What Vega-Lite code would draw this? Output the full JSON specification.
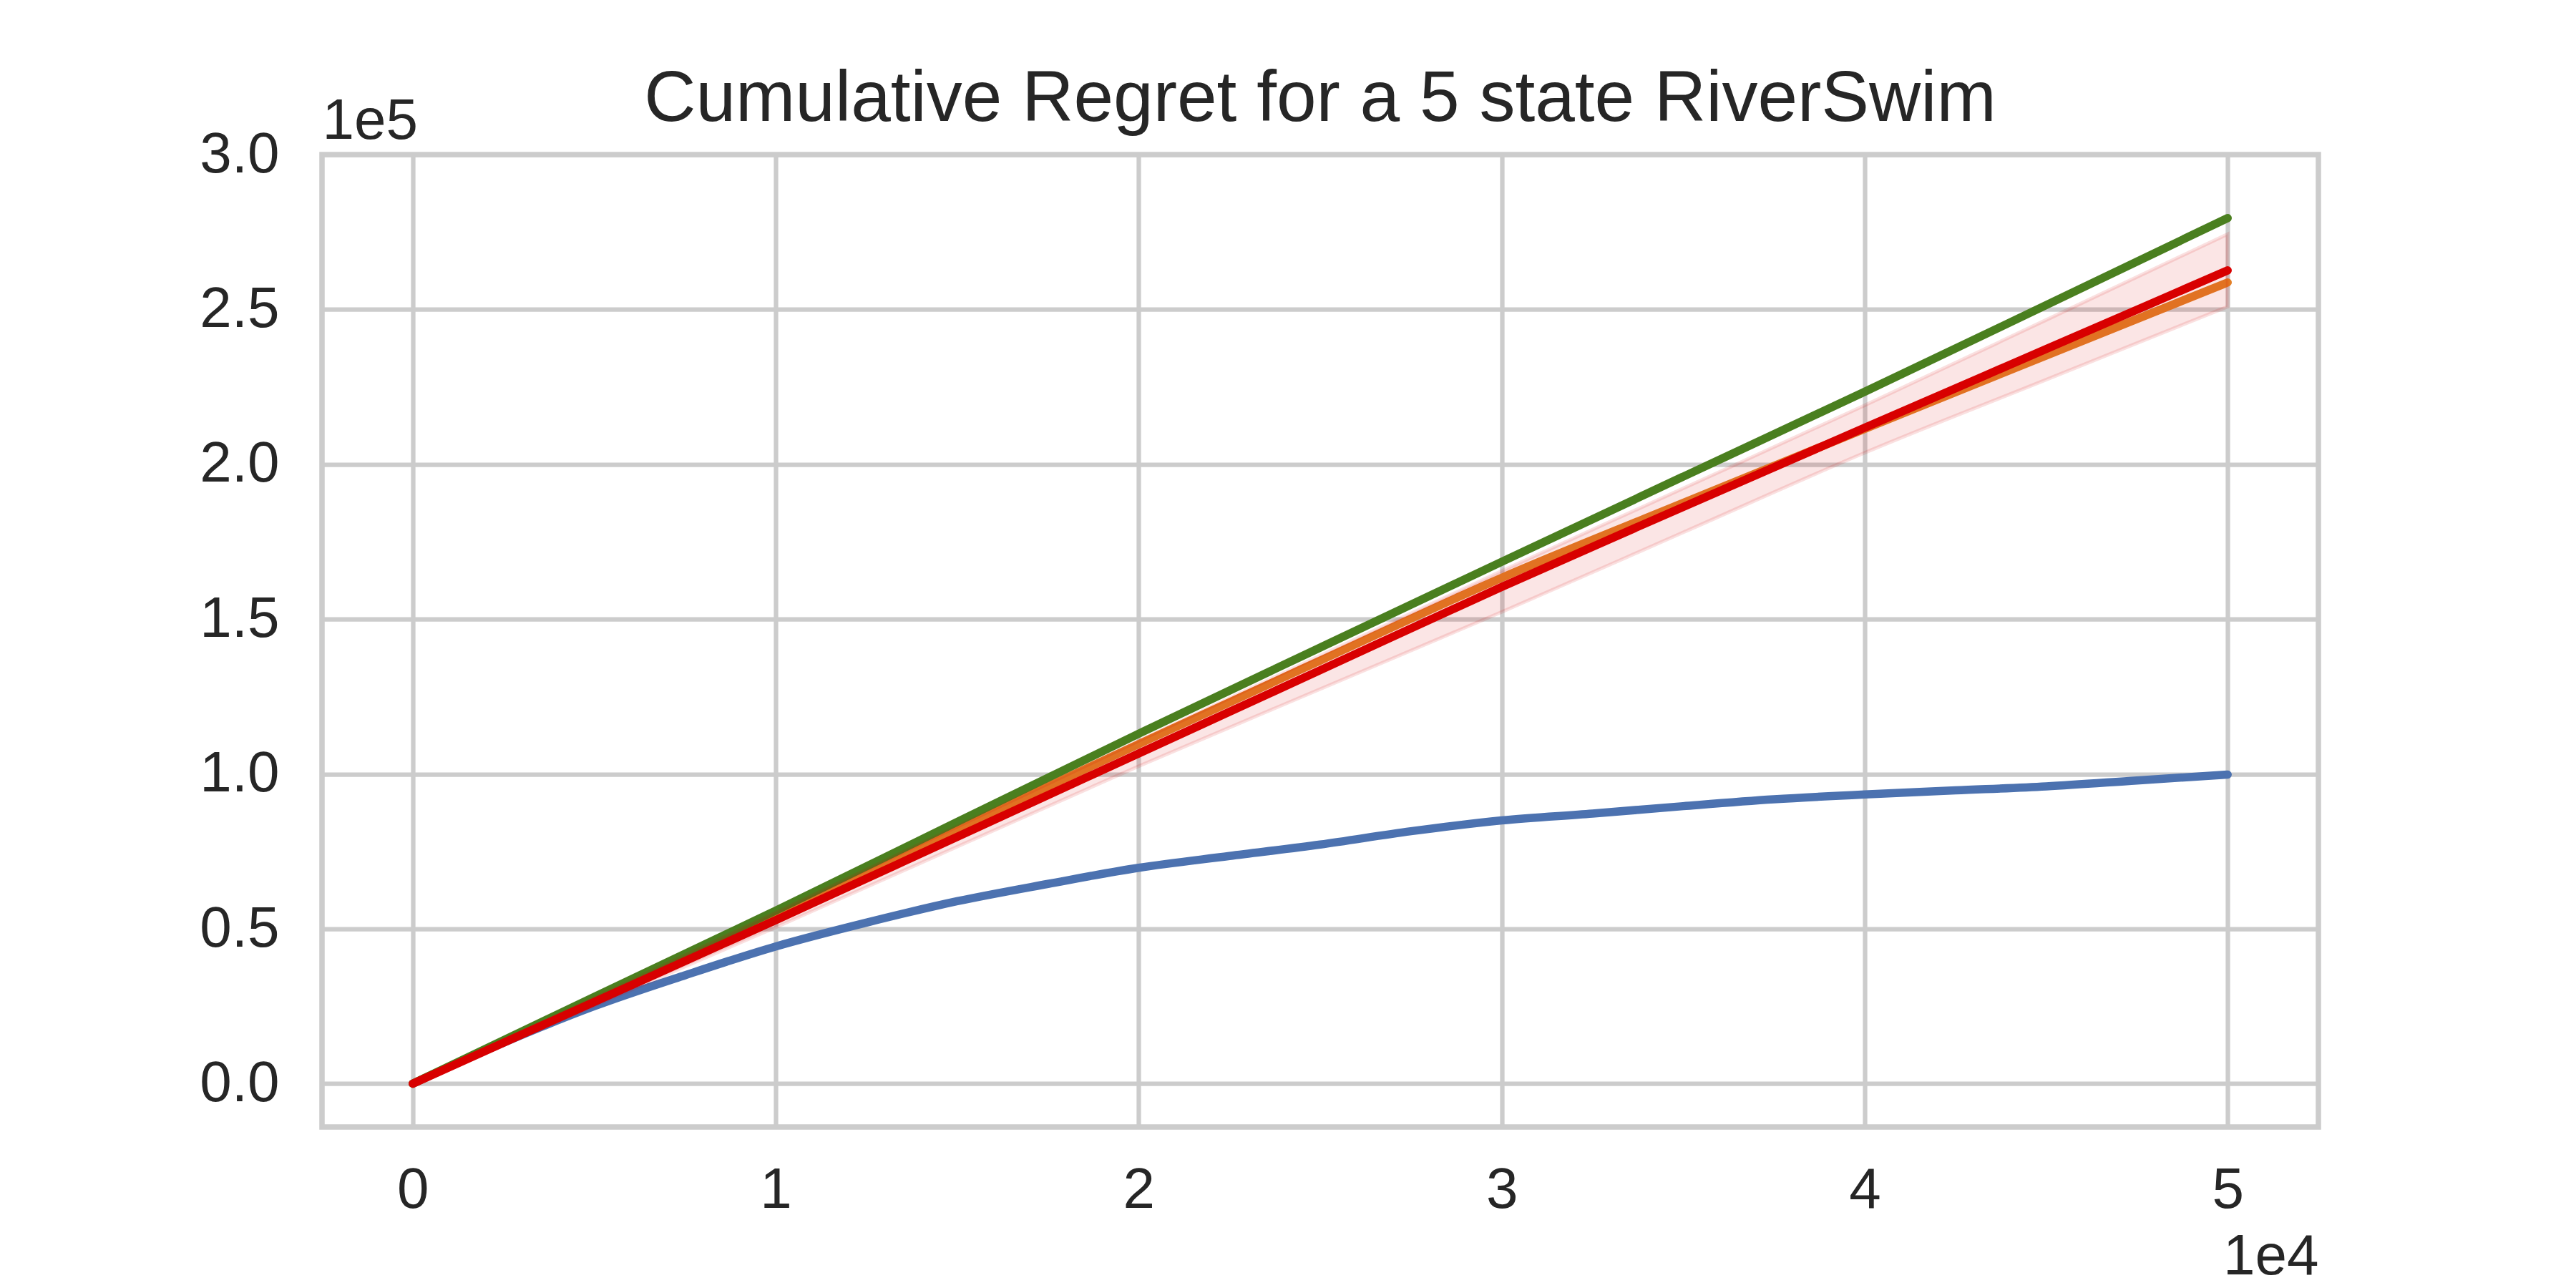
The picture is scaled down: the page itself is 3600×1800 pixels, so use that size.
{
  "$schema": "https://vega.github.io/schema/vega-lite/v6.json",
  "width": 2790,
  "height": 1359,
  "autosize": {"type": "none"},
  "padding": {"left": 450, "top": 216, "right": 360, "bottom": 225},
  "background": "white",
  "title": {
    "text": "Cumulative Regret for a 5 state RiverSwim",
    "fontSize": 100,
    "font": "Liberation Sans",
    "fontWeight": "normal",
    "color": "#262626",
    "anchor": "middle",
    "frame": "group",
    "baseline": "alphabetic",
    "offset": -140
  },
  "config": {
    "view": {"stroke": "#cccccc", "strokeWidth": 7.5},
    "font": "Liberation Sans"
  },
  "datasets": {
    "lines": [
      {"step": 0, "regret": 0, "series": "Algorithm A"},
      {"step": 2500, "regret": 13200, "series": "Algorithm A"},
      {"step": 5000, "regret": 25000, "series": "Algorithm A"},
      {"step": 7500, "regret": 35000, "series": "Algorithm A"},
      {"step": 10000, "regret": 44300, "series": "Algorithm A"},
      {"step": 12500, "regret": 52000, "series": "Algorithm A"},
      {"step": 15000, "regret": 58900, "series": "Algorithm A"},
      {"step": 17500, "regret": 64500, "series": "Algorithm A"},
      {"step": 20000, "regret": 69700, "series": "Algorithm A"},
      {"step": 22500, "regret": 73500, "series": "Algorithm A"},
      {"step": 25000, "regret": 77200, "series": "Algorithm A"},
      {"step": 27500, "regret": 81500, "series": "Algorithm A"},
      {"step": 30000, "regret": 85000, "series": "Algorithm A"},
      {"step": 32500, "regret": 87200, "series": "Algorithm A"},
      {"step": 35000, "regret": 89600, "series": "Algorithm A"},
      {"step": 37500, "regret": 91800, "series": "Algorithm A"},
      {"step": 40000, "regret": 93400, "series": "Algorithm A"},
      {"step": 42500, "regret": 94700, "series": "Algorithm A"},
      {"step": 45000, "regret": 96000, "series": "Algorithm A"},
      {"step": 47500, "regret": 97900, "series": "Algorithm A"},
      {"step": 50000, "regret": 99800, "series": "Algorithm A"},
      {"step": 0, "regret": 0, "series": "Algorithm B"},
      {"step": 5000, "regret": 27400, "series": "Algorithm B"},
      {"step": 10000, "regret": 54800, "series": "Algorithm B"},
      {"step": 15000, "regret": 82200, "series": "Algorithm B"},
      {"step": 20000, "regret": 109650, "series": "Algorithm B"},
      {"step": 25000, "regret": 136600, "series": "Algorithm B"},
      {"step": 30000, "regret": 163350, "series": "Algorithm B"},
      {"step": 35000, "regret": 187500, "series": "Algorithm B"},
      {"step": 40000, "regret": 211400, "series": "Algorithm B"},
      {"step": 45000, "regret": 235100, "series": "Algorithm B"},
      {"step": 50000, "regret": 258700, "series": "Algorithm B"},
      {"step": 0, "regret": 0, "series": "Algorithm C"},
      {"step": 5000, "regret": 28000, "series": "Algorithm C"},
      {"step": 10000, "regret": 55860, "series": "Algorithm C"},
      {"step": 15000, "regret": 84500, "series": "Algorithm C"},
      {"step": 20000, "regret": 113000, "series": "Algorithm C"},
      {"step": 25000, "regret": 140800, "series": "Algorithm C"},
      {"step": 30000, "regret": 168500, "series": "Algorithm C"},
      {"step": 35000, "regret": 196000, "series": "Algorithm C"},
      {"step": 40000, "regret": 223400, "series": "Algorithm C"},
      {"step": 45000, "regret": 251400, "series": "Algorithm C"},
      {"step": 50000, "regret": 279500, "series": "Algorithm C"},
      {"step": 0, "regret": 0, "series": "Algorithm D"},
      {"step": 5000, "regret": 26400, "series": "Algorithm D"},
      {"step": 10000, "regret": 52800, "series": "Algorithm D"},
      {"step": 15000, "regret": 79700, "series": "Algorithm D"},
      {"step": 20000, "regret": 106600, "series": "Algorithm D"},
      {"step": 25000, "regret": 133500, "series": "Algorithm D"},
      {"step": 30000, "regret": 160400, "series": "Algorithm D"},
      {"step": 35000, "regret": 186200, "series": "Algorithm D"},
      {"step": 40000, "regret": 211800, "series": "Algorithm D"},
      {"step": 45000, "regret": 237200, "series": "Algorithm D"},
      {"step": 50000, "regret": 262600, "series": "Algorithm D"}
    ],
    "band": [
      {"step": 0, "lower": 0, "upper": 0},
      {"step": 5000, "lower": 25200, "upper": 27700},
      {"step": 10000, "lower": 50500, "upper": 55200},
      {"step": 15000, "lower": 76500, "upper": 83000},
      {"step": 20000, "lower": 102500, "upper": 110700},
      {"step": 25000, "lower": 127400, "upper": 138200},
      {"step": 30000, "lower": 152300, "upper": 165500},
      {"step": 35000, "lower": 178000, "upper": 192200},
      {"step": 40000, "lower": 203700, "upper": 219000},
      {"step": 45000, "lower": 227300, "upper": 246600},
      {"step": 50000, "lower": 250900, "upper": 274300}
    ]
  },
  "encoding": {
    "x": {
      "field": "step",
      "type": "quantitative",
      "scale": {"domain": [-2500, 52500], "nice": false, "zero": false},
      "axis": {
        "title": "1e4",
        "titleFontSize": 80,
        "titleFontWeight": "normal",
        "titleColor": "#262626",
        "titleAlign": "right",
        "titleBaseline": "alphabetic",
        "titleX": 2790,
        "titleY": 205,
        "values": [0, 10000, 20000, 30000, 40000, 50000],
        "labelExpr": "format(datum.value / 10000, 'd')",
        "labelFontSize": 80,
        "labelColor": "#262626",
        "labelPadding": 49,
        "labelFlush": false,
        "ticks": false,
        "domain": false,
        "grid": true,
        "gridColor": "#cccccc",
        "gridWidth": 6.25
      }
    }
  },
  "layer": [
    {
      "data": {"name": "lines"},
      "transform": [{"filter": "datum.series == 'Algorithm A'"}],
      "mark": {"type": "line", "strokeWidth": 11.5, "strokeCap": "round", "strokeJoin": "round", "interpolate": "monotone"},
      "encoding": {
        "y": {
          "field": "regret",
          "type": "quantitative",
          "scale": {"domain": [-14000, 300000], "nice": false, "zero": false},
          "axis": {
            "title": "1e5",
            "titleFontSize": 80,
            "titleFontWeight": "normal",
            "titleColor": "#262626",
            "titleAngle": 0,
            "titleAlign": "left",
            "titleBaseline": "alphabetic",
            "titleX": 0,
            "titleY": -23,
            "values": [0, 50000, 100000, 150000, 200000, 250000, 300000],
            "labelExpr": "format(datum.value / 100000, '.1f')",
            "labelFontSize": 80,
            "labelColor": "#262626",
            "labelPadding": 60,
            "ticks": false,
            "domain": false,
            "grid": true,
            "gridColor": "#cccccc",
            "gridWidth": 6.25
          }
        },
        "color": {
          "field": "series",
          "type": "nominal",
          "scale": {"domain": ["Algorithm A", "Algorithm B", "Algorithm C", "Algorithm D"], "range": ["#4c72b0", "#e37f26", "#4a7f1f", "#d90000"]},
          "legend": null
        }
      }
    },
    {
      "data": {"name": "lines"},
      "transform": [{"filter": "datum.series == 'Algorithm B'"}],
      "mark": {"type": "line", "strokeWidth": 11.5, "strokeCap": "round", "strokeJoin": "round", "interpolate": "monotone"},
      "encoding": {
        "y": {"field": "regret", "type": "quantitative"},
        "color": {"field": "series", "type": "nominal", "legend": null}
      }
    },
    {
      "data": {"name": "lines"},
      "transform": [{"filter": "datum.series == 'Algorithm C'"}],
      "mark": {"type": "line", "strokeWidth": 11.5, "strokeCap": "round", "strokeJoin": "round", "interpolate": "monotone"},
      "encoding": {
        "y": {"field": "regret", "type": "quantitative"},
        "color": {"field": "series", "type": "nominal", "legend": null}
      }
    },
    {
      "data": {"name": "lines"},
      "transform": [{"filter": "datum.series == 'Algorithm D'"}],
      "mark": {"type": "line", "strokeWidth": 11.5, "strokeCap": "round", "strokeJoin": "round", "interpolate": "monotone"},
      "encoding": {
        "y": {"field": "regret", "type": "quantitative"},
        "color": {"field": "series", "type": "nominal", "legend": null}
      }
    },
    {
      "data": {"name": "band"},
      "mark": {"type": "area", "fill": "#d90000", "fillOpacity": 0.1, "stroke": "#d90000", "strokeOpacity": 0.12, "strokeWidth": 5, "interpolate": "monotone"},
      "encoding": {
        "y": {"field": "lower", "type": "quantitative"},
        "y2": {"field": "upper"}
      }
    }
  ]
}
